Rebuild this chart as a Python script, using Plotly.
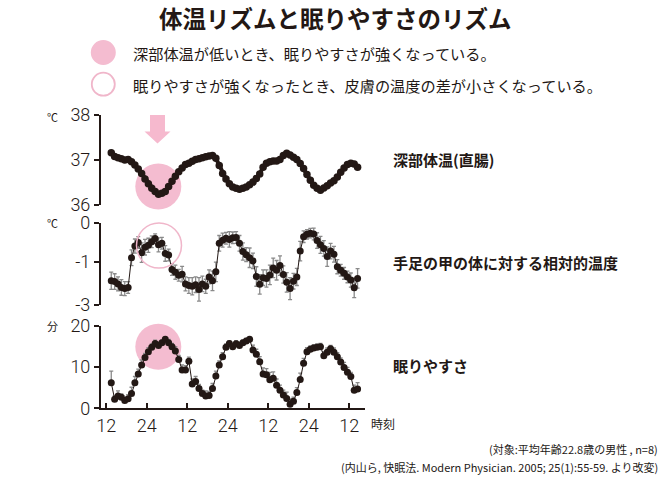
import plotly.graph_objects as go

W, H = 670, 480

# hourly samples, 13:30 on day 1 .. 86:30 (72h+ recording)
hours = [h + 0.5 for h in range(13, 87)]

# 深部体温(直腸) [℃]
core_temp = [37.16, 37.08, 37.05, 37.03, 37.00, 37.01, 36.96, 36.89, 36.80, 36.70,
             36.58, 36.47, 36.37, 36.30, 36.24, 36.26, 36.30, 36.41, 36.53, 36.64,
             36.74, 36.82, 36.90, 36.93, 36.97, 37.01, 37.03, 37.05, 37.07, 37.09,
             37.10, 37.04, 36.88, 36.70, 36.58, 36.47, 36.40, 36.37, 36.35, 36.37,
             36.40, 36.45, 36.51, 36.59, 36.69, 36.84, 36.93, 36.96, 36.98, 36.98,
             37.01, 37.10, 37.15, 37.11, 37.06, 37.01, 36.92, 36.81, 36.68, 36.55,
             36.44, 36.37, 36.33, 36.38, 36.43, 36.49, 36.54, 36.62, 36.73, 36.82,
             36.90, 36.93, 36.91, 36.84]

# 手足の甲の体に対する相対的温度 (axis units as drawn)
skin_temp = [-1.48, -1.50, -1.56, -1.65, -1.68, -1.65, -0.89, -0.59, -0.50, -0.76,
             -0.62, -0.57, -0.48, -0.40, -0.56, -0.52, -0.78, -0.82, -1.19, -1.26,
             -1.34, -1.31, -1.56, -1.60, -1.62, -1.58, -1.70, -1.56, -1.62, -1.38,
             -1.48, -1.25, -0.52, -0.44, -0.39, -0.42, -0.38, -0.37, -0.52, -0.73,
             -0.81, -0.89, -0.97, -1.37, -1.57, -1.40, -1.42, -1.33, -1.15, -1.21,
             -1.09, -1.32, -1.52, -1.68, -1.49, -1.38, -0.72, -0.35, -0.29, -0.26,
             -0.28, -0.45, -0.56, -0.65, -0.86, -0.72, -0.80, -1.12, -1.21, -1.29,
             -1.38, -1.46, -1.66, -1.42]
skin_err = [0.22, 0.20, 0.18, 0.20, 0.18, 0.15, 0.20, 0.18, 0.15, 0.25,
            0.20, 0.18, 0.15, 0.12, 0.18, 0.15, 0.20, 0.15, 0.15, 0.18,
            0.15, 0.20, 0.18, 0.20, 0.22, 0.20, 0.30, 0.20, 0.18, 0.18,
            0.25, 0.25, 0.20, 0.18, 0.15, 0.20, 0.15, 0.15, 0.20, 0.22,
            0.18, 0.25, 0.20, 0.25, 0.25, 0.20, 0.22, 0.25, 0.25, 0.25,
            0.25, 0.22, 0.25, 0.28, 0.20, 0.22, 0.25, 0.15, 0.12, 0.12,
            0.15, 0.20, 0.22, 0.20, 0.25, 0.20, 0.20, 0.18, 0.15, 0.15,
            0.15, 0.18, 0.25, 0.25]

# 眠りやすさ [分]
sleep_ease = [6.2, 2.2, 3.0, 2.7, 1.9, 2.3, 3.6, 6.2, 8.3, 10.5,
              12.3, 13.7, 14.8, 15.7, 15.2, 15.9, 16.7, 15.9, 14.9, 13.9,
              11.8, 9.3, 9.3, 11.4, 5.9, 6.5, 4.8, 3.6, 3.0, 3.1,
              4.8, 7.8, 10.5, 12.5, 14.8, 15.7, 14.9, 15.6, 15.2, 15.9,
              16.3, 16.7, 14.1, 13.1, 11.3, 8.3, 8.1, 6.9, 7.3, 5.6,
              4.4, 3.2, 2.4, 1.0, 1.7, 3.8, 7.0, 10.9, 13.7, 14.3,
              14.6, 14.8, 14.9, 12.7, 13.6, 14.4, 13.6, 12.5, 11.2, 9.9,
              8.7, 7.7, 4.4, 4.7]
sleep_err = [2.8, 0.8, 1.2, 0.8, 0.6, 1.0, 1.5, 1.5, 1.2, 1.2,
             1.0, 1.0, 0.8, 0.8, 0.8, 0.6, 0.6, 0.8, 0.8, 1.0,
             1.0, 1.2, 1.0, 1.0, 1.2, 1.2, 1.0, 0.8, 1.2, 1.0,
             1.2, 1.2, 1.0, 1.0, 0.8, 0.6, 0.6, 0.8, 0.8, 0.6,
             0.6, 0.5, 1.2, 1.2, 1.2, 1.5, 1.5, 1.8, 1.5, 1.5,
             1.2, 1.2, 1.5, 1.2, 1.0, 1.2, 1.5, 1.2, 1.0, 0.8,
             0.8, 0.8, 0.8, 1.0, 1.0, 0.8, 1.0, 1.0, 1.0, 1.2,
             1.2, 1.0, 1.2, 1.5]

x_ticks = [12, 24, 36, 48, 60, 72, 84]
x_ticktext = ["12", "24", "12", "24", "12", "24", "12"]

INK = "#231815"
PINK = "#f4bcd0"
JP = "Noto Sans CJK JP"
NUM = "Roboto"


def px(x):
    return x / W


def py(y):
    return 1 - y / H


fig = go.Figure()

fig.add_trace(go.Scatter(
    x=hours, y=core_temp, xaxis="x", yaxis="y",
    mode="lines+markers", line=dict(color=INK, width=4),
    marker=dict(color=INK, size=7.5), cliponaxis=False, showlegend=False,
))
fig.add_trace(go.Scatter(
    x=hours, y=skin_temp, xaxis="x2", yaxis="y2",
    mode="lines+markers", line=dict(color=INK, width=1),
    marker=dict(color=INK, size=7), cliponaxis=False, showlegend=False,
    error_y=dict(type="data", array=skin_err, color="#8a8a8a", thickness=1.3, width=2),
))
fig.add_trace(go.Scatter(
    x=hours, y=sleep_ease, xaxis="x3", yaxis="y3",
    mode="lines+markers", line=dict(color=INK, width=1),
    marker=dict(color=INK, size=7), cliponaxis=False, showlegend=False,
    error_y=dict(type="data", symmetric=False, array=sleep_err,
                 arrayminus=[0] * len(sleep_err), color="#8a8a8a", thickness=1.3, width=2),
))

x_dom = [px(100.7), px(365)]
x_rng = [10.37, 88.7]
hidden_x = dict(domain=x_dom, range=x_rng, visible=False, automargin=False)
num_font = dict(family=NUM, size=18, color=INK, weight=300)
yax = dict(showline=True, linecolor=INK, linewidth=1.5, ticks="outside", ticklen=5,
           tickcolor=INK, tickwidth=1.5, showgrid=False, zeroline=False,
           automargin=False, tickfont=num_font)

fig.update_layout(
    width=W, height=H,
    margin=dict(l=0, r=0, t=0, b=0),
    paper_bgcolor="white", plot_bgcolor="rgba(0,0,0,0)",
    xaxis=dict(hidden_x, anchor="y"),
    xaxis2=dict(hidden_x, anchor="y2"),
    xaxis3=dict(domain=x_dom, range=x_rng, anchor="y3", showline=True, linecolor=INK,
                linewidth=1.5, ticks="inside", ticklen=6, tickcolor=INK, tickwidth=1.5,
                tickvals=x_ticks, ticktext=x_ticktext, showgrid=False, zeroline=False,
                automargin=False, tickfont=num_font),
    yaxis=dict(yax, domain=[py(205), py(115)], range=[36, 38], anchor="x",
               tickvals=[36, 37, 38]),
    yaxis2=dict(yax, domain=[py(305), py(223)], range=[-2.1, 0], anchor="x2",
                tickvals=[0, -1, -2.1], ticktext=["0", "-1", "-3"]),
    yaxis3=dict(yax, domain=[py(408.3), py(325.7)], range=[0, 20], anchor="x3",
                tickvals=[0, 10, 20]),
)


def circle(cx, cy, r, **kw):
    return dict(type="circle", xref="paper", yref="paper",
                x0=px(cx - r), x1=px(cx + r), y0=py(cy + r), y1=py(cy - r), **kw)


shapes = [
    circle(158.3, 186.5, 23, fillcolor=PINK, line=dict(width=0), layer="below"),
    circle(159, 245.5, 22.5, fillcolor="rgba(0,0,0,0)", line=dict(color="#f0b6ca", width=1.5)),
    circle(158.3, 346.7, 23, fillcolor=PINK, line=dict(width=0), layer="below"),
    circle(103.3, 52.5, 12.5, fillcolor=PINK, line=dict(width=0)),
    circle(103.3, 84.2, 11.5, fillcolor="rgba(0,0,0,0)", line=dict(color="#f0b6ca", width=1.8)),
]
arrow = [(150, 115), (165, 115), (165, 131.5), (170.5, 131.5), (157.5, 143.5),
         (144.5, 131.5), (150, 131.5)]
path = "M " + " L ".join(f"{px(a):.5f},{py(b):.5f}" for a, b in arrow) + " Z"
shapes.append(dict(type="path", xref="paper", yref="paper", path=path,
                   fillcolor="#f6b9ce", line=dict(width=0)))
fig.update_layout(shapes=shapes)


def note(x, y, text, size, anchor="left", bold=False):
    fig.add_annotation(
        x=px(x), y=py(y), xref="paper", yref="paper", text=text, showarrow=False,
        xanchor=anchor, yanchor="middle",
        font=dict(family=JP, size=size, color=INK, weight="bold" if bold else "normal"),
    )


note(335, 18, "体温リズムと眠りやすさのリズム", 23.5, anchor="center", bold=True)
note(131, 52.5, "深部体温が低いとき、眠りやすさが強くなっている。", 15.2)
note(131, 84.5, "眠りやすさが強くなったとき、皮膚の温度の差が小さくなっている。", 15.2)
note(45, 117, "℃", 11)
note(45, 223, "℃", 11)
note(45, 326, "分", 11)
note(391, 160, "深部体温(直腸)", 15, bold=True)
note(391, 262, "手足の甲の体に対する相対的温度", 15, bold=True)
note(391, 365, "眠りやすさ", 15, bold=True)
note(369, 423, "時刻", 12)
note(660, 449, "(対象:平均年齢22.8歳の男性 , n=8)", 11, anchor="right")
note(660, 467, "(内山ら, 快眠法. Modern Physician. 2005; 25(1):55-59. より改変)", 11, anchor="right")

# the page body has a default 8px margin; drop it so the figure fills the window
fig.write_html("out.html", config={"displayModeBar": False},
               post_script="document.body.style.margin = '0';")
